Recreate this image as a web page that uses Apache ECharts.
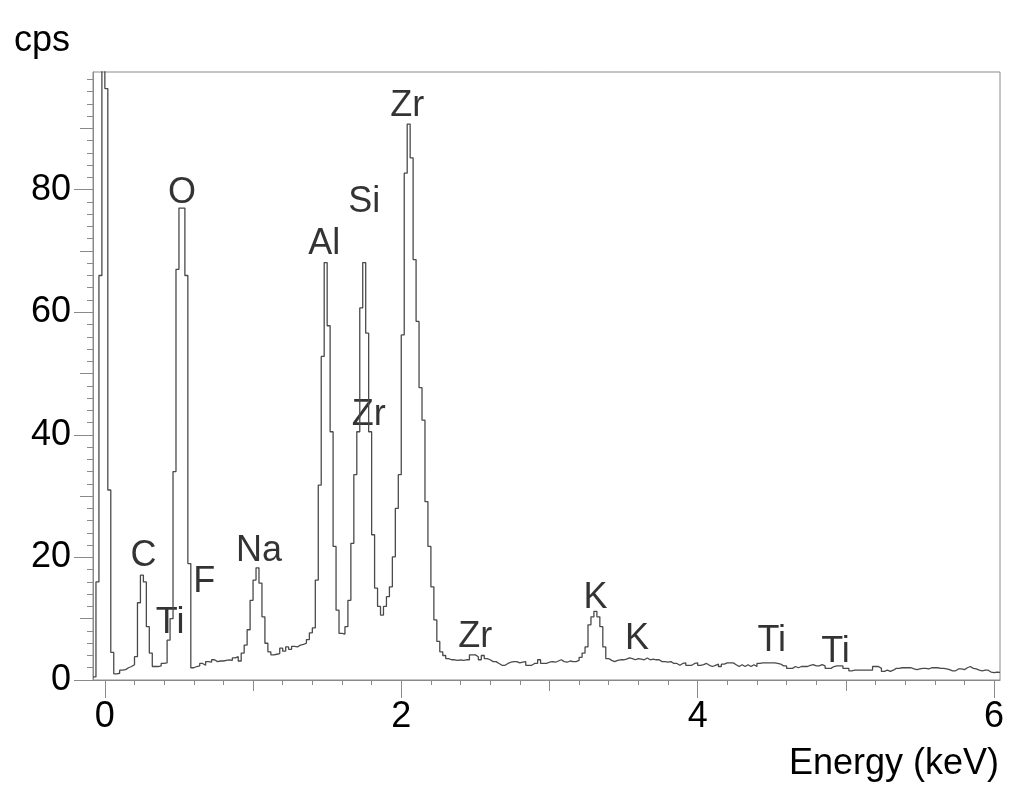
<!DOCTYPE html>
<html>
<head>
<meta charset="utf-8">
<title>EDS spectrum</title>
<script src="https://cdn.jsdelivr.net/npm/echarts@6/dist/echarts.min.js"></script>
<style>
  html, body { margin: 0; padding: 0; background: #fff; }
  #chart { width: 1024px; height: 793px; }
</style>
</head>
<body>
<div id="chart"></div>
<script>
// spectrum, one value per 20 eV channel, first channel starts at -0.08 keV
const channelStart = -0.08;
const channelWidth = 0.02;
const counts = [
  0.5, 16, 66, 200, 96.5, 31, 4.5, 1.0, 1.1, 1.6,
  1.7, 2.0, 2.2, 2.5, 3.8, 12.6, 17.1, 16, 8.7, 4.4,
  2.2, 2.2, 2.3, 2.7, 2.8, 6.5, 10, 34, 67, 77,
  77, 66, 19, 2.0, 2.2, 2.3, 2.7, 2.4, 3.0, 2.9,
  3.3, 3.0, 3.1, 3.1, 3.2, 3.3, 3.2, 3.6, 3.8, 3.1,
  4.4, 5.7, 8.2, 13, 16.3, 18.3, 15.8, 10.3, 6.0, 4.6,
  4.1, 4.2, 4.3, 5.2, 4.7, 5.4, 5.0, 5.5, 5.4, 5.7,
  5.8, 6.0, 6.6, 7.7, 8.5, 16.3, 31.8, 52.8, 68.1, 57.8,
  40.5, 21.8, 11.4, 7.6, 7.5, 8.7, 13, 22.3, 33.5, 40.5,
  60.7, 68.1, 56.6, 40.5, 23.7, 15, 12, 10.6, 12, 13.6,
  15.2, 20.1, 28, 33.5, 56.3, 82.7, 90.7, 85.2, 68.6, 58.5,
  47.7, 42.4, 29.1, 21.8, 15.2, 9.8, 6.3, 4.6, 4.0, 3.5,
  3.3, 3.3, 3.2, 3.3, 3.2, 3.3, 3.3, 4.1, 4.1, 3.8,
  3.3, 4.0, 3.5, 3.3, 3.0, 3.0, 2.7, 2.4, 2.4, 2.7,
  2.9, 3.0, 3.0, 2.8, 2.9, 3.0, 2.4, 2.4, 2.7, 2.7,
  3.3, 2.7, 2.7, 2.9, 3.0, 2.9, 3.1, 3.3, 3.0, 2.9,
  3.1, 3.0, 3.0, 3.2, 3.7, 4.4, 5.4, 9.0, 10.3, 11.2,
  10.3, 8.7, 5.4, 3.5, 3.2, 3.0, 3.2, 3.3, 3.3, 3.4,
  3.6, 3.5, 3.3, 3.5, 3.4, 3.3, 3.6, 3.3, 3.4, 3.3,
  3.3, 3.0, 3.0, 2.9, 3.0, 2.7, 2.7, 2.4, 2.7, 2.8,
  2.4, 2.4, 2.7, 2.8, 2.4, 2.5, 2.7, 2.4, 2.2, 2.4,
  2.6, 2.2, 2.6, 2.8, 2.8, 2.8, 2.5, 2.2, 2.5, 2.2,
  2.5, 2.2, 2.5, 2.2, 2.7, 2.8, 2.8, 2.8, 2.8, 2.8,
  2.7, 2.6, 2.3, 2.3, 1.9, 1.9, 2.2, 2.0, 2.2, 2.2,
  2.2, 2.4, 2.5, 2.3, 2.3, 2.5, 2.3, 1.9, 1.9, 2.2,
  2.3, 2.3, 2.3, 1.9, 1.9, 1.5, 1.6, 1.6, 1.6, 1.6,
  1.6, 1.6, 1.6, 2.2, 2.2, 1.9, 1.4, 1.6, 1.4, 1.6,
  1.9, 1.9, 2.0, 2.0, 2.0, 2.0, 1.8, 1.7, 1.8, 1.9,
  1.9, 1.8, 2.0, 2.0, 2.0, 1.9, 1.9, 1.8, 1.7, 1.5,
  1.5, 1.8, 1.8, 1.7, 2.0, 2.2, 1.9, 1.8, 1.6, 1.5,
  1.6, 1.6, 1.3, 1.2, 1.3, 1.25
];

// peak annotations
const peakNames  = ['C', 'Ti', 'O', 'F', 'Na', 'Al', 'Si', 'Zr', 'Zr', 'Zr', 'K', 'K', 'Ti', 'Ti'];
const peakEnergy = [0.26, 0.44, 0.52, 0.67, 1.04, 1.48, 1.75, 2.04, 1.78, 2.50, 3.31, 3.59, 4.50, 4.93];
const peakHeight = [20.3, 9.3, 79.5, 16.0, 21.1, 71.1, 78.0, 93.6, 43.3, 7.0, 13.3, 6.6, 6.3, 4.6];

const xMin = -0.08, xMax = 6.04;
const yMin = 0, yMax = 99.2;
const xLabelTicks = [0, 2, 4, 6];
const xMidTicks = [1, 3, 5];
const yLabelTicks = [0, 20, 40, 60, 80];
const yMidTicks = [10, 30, 50, 70, 90];
const xMinorTicks = [];
for (let i = 0; i <= 30; i++) xMinorTicks.push(+(i * 0.2).toFixed(1));
const yMinorTicks = [];
for (let i = 0; i <= 49; i++) yMinorTicks.push(i * 2);

const font = "'Liberation Sans', Arial, Helvetica, sans-serif";
const fontSize = 36;
const frameColor = '#8a8a8a';

const spectrum = counts.map((v, i) => [+(channelStart + i * channelWidth).toFixed(2), v]);
spectrum.push([+(channelStart + counts.length * channelWidth).toFixed(2), counts[counts.length - 1]]);

const box = {left: 93, right: 24, top: 72, bottom: 113};

function xAxisFor(gridIndex, ticks, len, withLabels) {
  return {
    type: 'value', gridIndex: gridIndex, min: xMin, max: xMax, position: 'bottom',
    axisLine: {show: withLabels, onZero: false, lineStyle: {color: frameColor, width: 1}},
    axisTick: {show: true, customValues: ticks, length: len, lineStyle: {color: frameColor, width: 1}},
    axisLabel: withLabels
      ? {show: true, customValues: ticks, fontSize: fontSize, fontFamily: font, color: '#000', margin: 19}
      : {show: false},
    splitLine: {show: false}
  };
}
function yAxisFor(gridIndex, ticks, len, withLabels) {
  return {
    type: 'value', gridIndex: gridIndex, min: yMin, max: yMax, position: 'left',
    axisLine: {show: withLabels, onZero: false, lineStyle: {color: frameColor, width: 1}},
    axisTick: {show: true, customValues: ticks, length: len, lineStyle: {color: frameColor, width: 1}},
    axisLabel: withLabels
      ? {show: true, customValues: ticks, fontSize: fontSize, fontFamily: font, color: '#000', margin: 22}
      : {show: false},
    splitLine: {show: false}
  };
}

const chart = echarts.init(document.getElementById('chart'), null, {renderer: 'canvas'});
chart.setOption({
  animation: false,
  backgroundColor: '#fff',
  grid: [
    Object.assign({show: true, borderColor: frameColor, borderWidth: 1, backgroundColor: 'transparent'}, box),
    Object.assign({}, box),
    Object.assign({}, box)
  ],
  xAxis: [
    xAxisFor(0, xLabelTicks, 18, true),
    xAxisFor(1, xMidTicks, 11, false),
    xAxisFor(2, xMinorTicks, 5, false)
  ],
  yAxis: [
    yAxisFor(0, yLabelTicks, 19, true),
    yAxisFor(1, yMidTicks, 13, false),
    yAxisFor(2, yMinorTicks, 6, false)
  ],
  graphic: [
    {type: 'text', style: {x: 14, y: 41, text: 'cps', font: fontSize + 'px ' + font, fill: '#000', verticalAlign: 'middle'}},
    {type: 'text', style: {x: 999, y: 764, text: 'Energy (keV)', font: fontSize + 'px ' + font, fill: '#000', align: 'right', verticalAlign: 'middle'}}
  ],
  series: [
    {
      type: 'line', xAxisIndex: 0, yAxisIndex: 0,
      step: 'end', symbol: 'none', clip: true,
      lineStyle: {color: '#4a4a4a', width: 1.3},
      data: spectrum
    },
    {
      type: 'scatter', xAxisIndex: 0, yAxisIndex: 0, silent: true,
      symbolSize: 1, itemStyle: {color: 'rgba(0,0,0,0)'},
      label: {show: true, position: 'inside', formatter: '{b}', fontSize: fontSize, fontFamily: font, color: '#000'},
      data: peakNames.map((n, i) => ({name: n, value: [peakEnergy[i], peakHeight[i]]}))
    }
  ]
});
</script>
</body>
</html>
